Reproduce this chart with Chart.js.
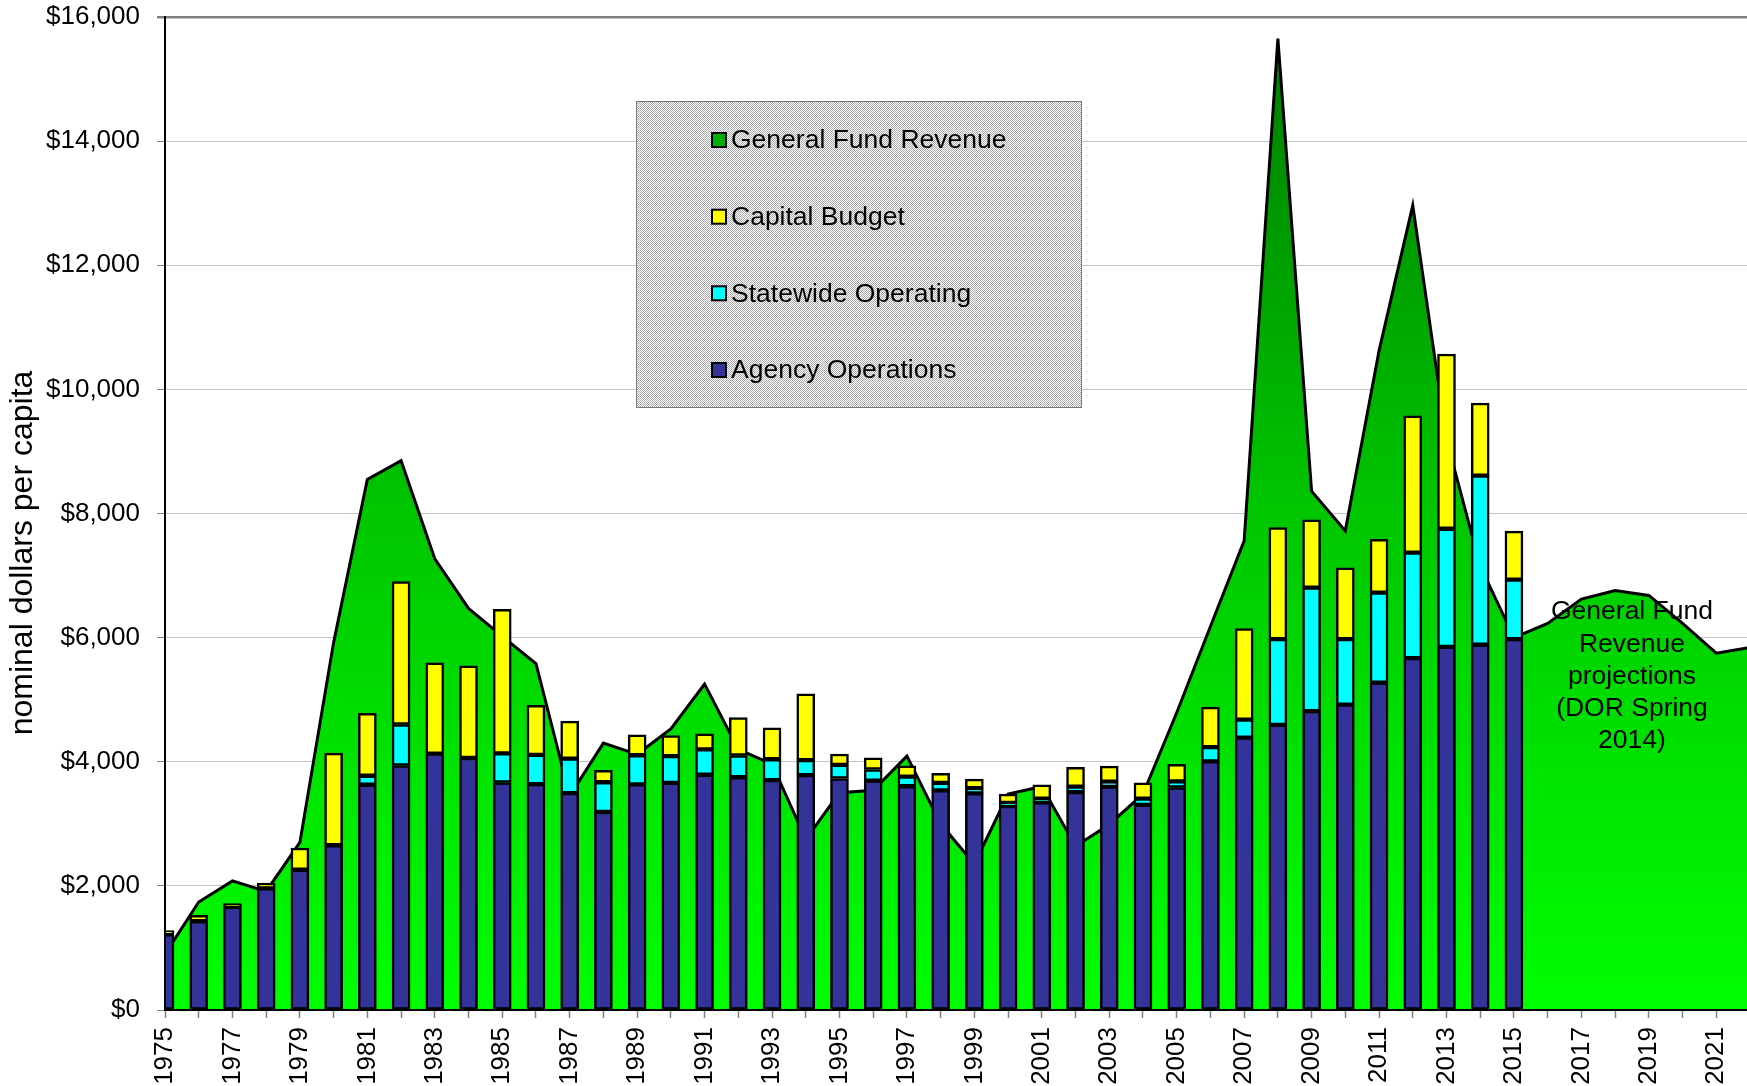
<!DOCTYPE html>
<html>
<head>
<meta charset="utf-8">
<script src="https://cdn.jsdelivr.net/npm/chart.js@4.4.1/dist/chart.umd.min.js"></script>
<style>
  html, body { margin: 0; padding: 0; background: #ffffff; overflow: hidden; }
  #wrap { width: 1747px; height: 1086px; overflow: hidden; }
  canvas { display: block; }
</style>
</head>
<body>
<div id="wrap"><canvas id="c" width="1750" height="1086"></canvas></div>
<script>
// ---------------- DATA ----------------
const years = [1975,1976,1977,1978,1979,1980,1981,1982,1983,1984,1985,1986,1987,1988,1989,1990,
  1991,1992,1993,1994,1995,1996,1997,1998,1999,2000,2001,2002,2003,2004,2005,2006,2007,2008,2009,
  2010,2011,2012,2013,2014,2015,2016,2017,2018,2019,2020,2021,2022];

const generalFundRevenue = [900,1740,2080,1910,2700,5920,8550,8850,7270,6470,6020,5580,3450,4300,4120,4530,
  5250,4200,3960,2750,3500,3540,4090,3000,2350,3480,3600,2640,2990,3480,4790,6180,7560,15650,8360,
  7720,10620,12965,9200,7150,6000,6230,6620,6760,6680,6230,5750,5840];

const agencyOperations = [1220,1430,1660,1960,2260,2655,3630,3940,4130,4060,3665,3640,3495,3190,3635,3660,
  3790,3750,3705,3785,3730,3695,3605,3540,3490,3285,3345,3510,3600,3305,3585,4005,4390,4595,4815,
  4920,5275,5670,5850,5885,5975,null,null,null,null,null,null,null];

const statewideOperating = [0,0,0,0,0,0,145,660,0,0,470,470,555,480,470,430,
  410,350,335,240,220,180,155,120,85,50,60,90,80,100,100,230,290,1380,1990,
  1055,1450,1700,1905,2725,960,null,null,null,null,null,null,null];

const capitalBudget = [60,95,55,85,350,1485,1005,2305,1465,1485,2320,800,605,190,330,330,
  250,610,505,1070,175,190,175,155,145,145,225,310,250,255,275,645,1465,1800,1095,
  1150,860,2205,2815,1170,780,null,null,null,null,null,null,null];

const yTicks = [0,2000,4000,6000,8000,10000,12000,14000,16000];

const yTitle = 'nominal dollars per capita';
const legendLabels = ['General Fund Revenue','Capital Budget','Statewide Operating','Agency Operations'];
const legendColors = ['#00B000','#FFFF00','#00FFFF','#333399'];

const noteLines = ['General Fund','Revenue','projections','(DOR Spring','2014)'];

// ---------------- STYLE ----------------
const FONT = '"Liberation Sans", Arial, Helvetica, sans-serif';

function areaGradient(context) {
  const chart = context.chart;
  const area = chart.chartArea;
  if (!area) return '#00CC00';
  const g = chart.ctx.createLinearGradient(0, area.bottom, 0, area.top);
  g.addColorStop(0, 'rgb(0,255,0)');
  g.addColorStop(0.5, 'rgb(0,198,0)');
  g.addColorStop(1, 'rgb(0,122,0)');
  return g;
}

function makePattern(ctx) {
  const c = document.createElement('canvas');
  c.width = 2; c.height = 2;
  const p = c.getContext('2d');
  p.fillStyle = '#ffffff'; p.fillRect(0,0,2,2);
  p.fillStyle = '#a8a8a8'; p.fillRect(0,0,1,1); p.fillRect(1,1,1,1);
  return ctx.createPattern(c, 'repeat');
}

const overlayPlugin = {
  id: 'overlay',
  afterDraw(chart) {
    const ctx = chart.ctx;
    ctx.save();
    // y-axis title
    ctx.save();
    ctx.translate(23, 553);
    ctx.rotate(-Math.PI / 2);
    ctx.font = '32px ' + FONT;
    ctx.fillStyle = '#000000';
    ctx.textAlign = 'center';
    ctx.textBaseline = 'middle';
    ctx.fillText(yTitle, 0, 0);
    ctx.restore();
    // legend box
    const bx = 636.5, by = 101.5, bw = 445, bh = 306;
    ctx.fillStyle = makePattern(ctx);
    ctx.fillRect(bx, by, bw, bh);
    ctx.strokeStyle = '#7a7a7a';
    ctx.lineWidth = 1;
    ctx.strokeRect(bx, by, bw, bh);
    const rowsY = [140, 216.7, 293.3, 370];
    ctx.font = '26.5px ' + FONT;
    ctx.textBaseline = 'middle';
    ctx.textAlign = 'left';
    for (let i = 0; i < legendLabels.length; i++) {
      const sy = rowsY[i];
      ctx.fillStyle = legendColors[i];
      ctx.fillRect(712, sy - 7, 14, 14);
      ctx.strokeStyle = '#000000';
      ctx.lineWidth = 2;
      ctx.strokeRect(712, sy - 7, 14, 14);
      ctx.fillStyle = '#000000';
      ctx.fillText(legendLabels[i], 731, sy + 1);
    }
    // projection note
    ctx.textAlign = 'center';
    ctx.fillStyle = '#000000';
    for (let i = 0; i < noteLines.length; i++) {
      ctx.fillText(noteLines[i], 1632, 612 + i * 32.2);
    }
    ctx.restore();
  }
};

const barCommon = {
  type: 'bar',
  borderColor: '#000000',
  borderWidth: 2.5,
  borderSkipped: false,
  barThickness: 18,
  stack: 'spend',
  order: 1
};

new Chart(document.getElementById('c'), {
  type: 'bar',
  data: {
    labels: years.map(String),
    datasets: [
      Object.assign({}, barCommon, { label: 'Agency Operations', data: agencyOperations, backgroundColor: '#333399' }),
      Object.assign({}, barCommon, { label: 'Statewide Operating', data: statewideOperating, backgroundColor: '#00FFFF' }),
      Object.assign({}, barCommon, { label: 'Capital Budget', data: capitalBudget, backgroundColor: '#FFFF00' }),
      {
        type: 'line',
        label: 'General Fund Revenue',
        data: generalFundRevenue,
        borderColor: '#000000',
        borderWidth: 3,
        backgroundColor: areaGradient,
        fill: 'origin',
        tension: 0,
        pointRadius: 0,
        borderJoinStyle: 'miter',
        stack: 'rev',
        order: 2
      }
    ]
  },
  options: {
    responsive: false,
    animation: false,
    devicePixelRatio: 1,
    layout: { padding: { top: 17, bottom: 0, left: 0, right: 0 } },
    plugins: {
      legend: { display: false },
      tooltip: { enabled: false },
      title: { display: false }
    },
    scales: {
      x: {
        type: 'category',
        stacked: true,
        offset: false,
        grid: { display: true, drawOnChartArea: false, drawTicks: true, tickLength: 8, tickColor: '#808080', tickWidth: 1.5, offset: false },
        border: { display: true, color: '#000000', width: 2, z: 1 },
        ticks: {
          autoSkip: false,
          minRotation: 90,
          maxRotation: 90,
          padding: 9,
          color: '#000000',
          font: { family: FONT, size: 26 },
          callback: function(val, idx) { const y = years[idx]; return (y % 2 === 1) ? String(y) : ''; }
        },
        afterFit: function(scale) { scale.paddingRight = 0; scale.paddingLeft = 0; scale.height = 76; }
      },
      y: {
        stacked: true,
        min: 0,
        max: 16000,
        afterBuildTicks: function(scale) { scale.ticks = yTicks.map(v => ({ value: v })); },
        afterFit: function(scale) { scale.width = 165; scale.paddingTop = 0; scale.paddingBottom = 0; },
        grid: {
          color: ctx => (ctx.tick && ctx.tick.value === 16000) ? '#808080' : '#c4c4c4',
          lineWidth: ctx => (ctx.tick && ctx.tick.value === 16000) ? 2.5 : 1,
          tickLength: 8,
          tickColor: '#808080'
        },
        border: { display: true, color: '#000000', width: 2, z: 1 },
        ticks: {
          padding: 17,
          color: '#000000',
          font: { family: FONT, size: 26 },
          callback: v => '$' + Number(v).toLocaleString('en-US')
        },
        title: { display: false }
      }
    }
  },
  plugins: [overlayPlugin]
});
</script>
</body>
</html>
